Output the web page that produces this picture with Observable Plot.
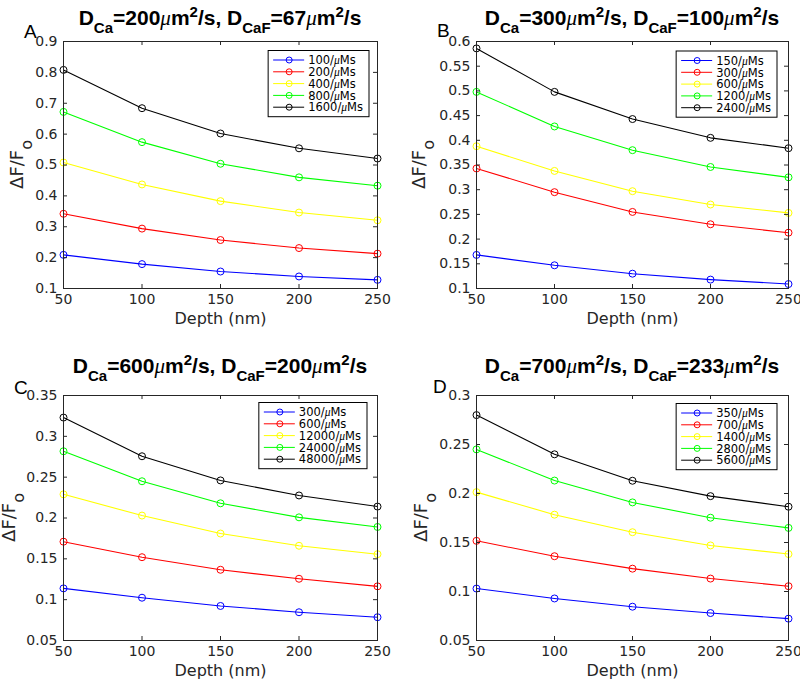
<!DOCTYPE html>
<html>
<head>
<meta charset="utf-8">
<script src="https://cdn.jsdelivr.net/npm/d3@7"></script>
<script src="https://cdn.jsdelivr.net/npm/@observablehq/plot@0.6"></script>
<style>
  html, body { margin: 0; padding: 0; background: #fff; }
  #wrap { position: relative; width: 800px; height: 679px; overflow: hidden; background: #fff; }
  #wrap svg { position: absolute; overflow: visible; }
</style>
</head>
<body>
<div id="wrap"></div>
<script>
// ---------- data ----------
const depth = [50, 100, 150, 200, 250];
const seriesColors = ["#0000ff", "#ff0000", "#ffff00", "#00ff00", "#000000"];
const panelLetters = ["A", "B", "C", "D"];
const dCa = [200, 300, 600, 700];
const dCaF = [67, 100, 200, 233];

const labelsA = ["100/μMs", "200/μMs", "400/μMs", "800/μMs", "1600/μMs"];
const labelsB = ["150/μMs", "300/μMs", "600/μMs", "1200/μMs", "2400/μMs"];
const labelsC = ["300/μMs", "600/μMs", "12000/μMs", "24000/μMs", "48000/μMs"];
const labelsD = ["350/μMs", "700/μMs", "1400/μMs", "2800/μMs", "5600/μMs"];

const valuesA = [
  [0.209, 0.179, 0.155, 0.139, 0.128],
  [0.342, 0.294, 0.257, 0.231, 0.213],
  [0.508, 0.437, 0.383, 0.346, 0.321],
  [0.672, 0.574, 0.504, 0.460, 0.433],
  [0.808, 0.684, 0.602, 0.554, 0.521]
];
const valuesB = [
  [0.168, 0.147, 0.130, 0.118, 0.109],
  [0.343, 0.295, 0.255, 0.230, 0.213],
  [0.388, 0.338, 0.297, 0.270, 0.253],
  [0.498, 0.428, 0.380, 0.346, 0.325],
  [0.586, 0.498, 0.443, 0.405, 0.384]
];
const valuesC = [
  [0.1138, 0.1024, 0.0923, 0.0846, 0.0785],
  [0.171, 0.152, 0.1366, 0.1256, 0.1163],
  [0.229, 0.203, 0.181, 0.166, 0.1557],
  [0.2817, 0.245, 0.218, 0.2008, 0.189],
  [0.323, 0.2756, 0.246, 0.2276, 0.214]
];
const valuesD = [
  [0.103, 0.0929, 0.0845, 0.078, 0.0723],
  [0.1517, 0.136, 0.1233, 0.1132, 0.1054],
  [0.2014, 0.1784, 0.1605, 0.147, 0.1382],
  [0.245, 0.2132, 0.1909, 0.1753, 0.1649],
  [0.280, 0.240, 0.213, 0.1973, 0.1865]
];

const xTicks = [50, 100, 150, 200, 250];
const yTicksA = [0.1, 0.2, 0.3, 0.4, 0.5, 0.6, 0.7, 0.8, 0.9];
const yTicksB = [0.1, 0.15, 0.2, 0.25, 0.3, 0.35, 0.4, 0.45, 0.5, 0.55, 0.6];
const yTicksC = [0.05, 0.1, 0.15, 0.2, 0.25, 0.3, 0.35];
const yTicksD = [0.05, 0.1, 0.15, 0.2, 0.25, 0.3];

// ---------- layout ----------
const AX = "#262626";
const panels = [
  {labels: labelsA, values: valuesA, yTicks: yTicksA, left: 0,   top: 0,   ml: 63, mr: 23, mt: 41, mb: 52, legTop: 50.5, legR: 8,  letterX: 24, letterY: 38, titleY: 25, ylabX: 23},
  {labels: labelsB, values: valuesB, yTicks: yTicksB, left: 400, top: 0,   ml: 76, mr: 12, mt: 41, mb: 52, legTop: 51,   legR: 11, letterX: 37, letterY: 37, titleY: 25, ylabX: 25},
  {labels: labelsC, values: valuesC, yTicks: yTicksC, left: 0,   top: 339, ml: 63, mr: 23, mt: 56, mb: 39, legTop: 63.5, legR: 10, letterX: 14, letterY: 55, titleY: 34, ylabX: 15},
  {labels: labelsD, values: valuesD, yTicks: yTicksD, left: 400, top: 339, ml: 76, mr: 12, mt: 56, mb: 39, legTop: 64.5, legR: 11, letterX: 33, letterY: 54, titleY: 34, ylabX: 27}
];

const W = 400, H = 340;
const wrap = document.getElementById("wrap");
const fmt = d => String(+d.toFixed(3));

panels.forEach((p, k) => {
  const data = p.labels.flatMap((lab, i) => depth.map((d, j) => ({depth: d, value: p.values[i][j], series: lab})));
  const plotW = W - p.ml - p.mr, plotH = H - p.mt - p.mb;
  const yDomain = [p.yTicks[0], p.yTicks[p.yTicks.length - 1]];
  const svg = Plot.plot({
    width: W, height: H,
    marginLeft: p.ml, marginRight: p.mr, marginTop: p.mt, marginBottom: p.mb,
    style: {fontFamily: "DejaVu Sans", fontSize: "14px", color: AX, background: "transparent", overflow: "visible"},
    x: {domain: [50, 250]},
    y: {domain: yDomain},
    color: {domain: p.labels, range: seriesColors},
    marks: [
      Plot.line(data, {x: "depth", y: "value", z: "series", stroke: "series", strokeWidth: 1.1}),
      Plot.dot(data, {x: "depth", y: "value", stroke: "series", fill: "none", r: 3.5, strokeWidth: 1}),
      Plot.frame({stroke: AX, strokeWidth: 1}),
      Plot.tickX(xTicks, {x: d => d, insetTop: plotH - 4, stroke: AX}),
      Plot.tickX(xTicks, {x: d => d, insetBottom: plotH - 4, stroke: AX}),
      Plot.tickY(p.yTicks, {y: d => d, insetRight: plotW - 4, stroke: AX}),
      Plot.tickY(p.yTicks, {y: d => d, insetLeft: plotW - 4, stroke: AX}),
      Plot.axisX(xTicks, {tickSize: 0, tickPadding: 6, label: null, tickFormat: d => String(d)}),
      Plot.axisY(p.yTicks, {tickSize: 0, tickPadding: 6, label: null, tickFormat: fmt}),
      Plot.text(["Depth (nm)"], {frameAnchor: "bottom", lineAnchor: "middle", dy: 30, fontSize: 16, fill: AX})
    ]
  });
  svg.style.left = p.left + "px";
  svg.style.top = p.top + "px";
  wrap.appendChild(svg);

  const s = d3.select(svg);
  const cx = p.ml + plotW / 2, cy = p.mt + plotH / 2;

  // title with sub/superscripts
  const parts = [
    ["D", "m"], ["Ca", "sub"], ["=" + dCa[k], "m"], ["μ", "mu"], ["m", "m"], ["2", "sup"],
    ["/s, D", "m"], ["CaF", "sub"], ["=" + dCaF[k], "m"], ["μ", "mu"], ["m", "m"], ["2", "sup"], ["/s", "m"]
  ];
  const t = s.append("text")
    .attr("x", cx).attr("y", p.titleY)
    .attr("text-anchor", "middle")
    .attr("font-family", "Liberation Sans, Arial, sans-serif")
    .attr("font-weight", "bold")
    .attr("font-size", 21)
    .attr("fill", "#000");
  let off = 0;
  parts.forEach(([txt, kind]) => {
    const target = kind === "sub" ? 8 : kind === "sup" ? -8 : 0;
    const ts = t.append("tspan").text(txt).attr("dy", target - off);
    off = target;
    if (kind === "sub" || kind === "sup") ts.attr("font-size", 15);
    if (kind === "mu") ts.attr("font-family", "Liberation Serif, serif").attr("font-weight", "normal").attr("font-style", "italic");
  });

  // panel letter
  s.append("text").text(panelLetters[k])
    .attr("x", p.letterX).attr("y", p.letterY)
    .attr("text-anchor", "start")
    .attr("font-family", "Liberation Sans, Arial, sans-serif")
    .attr("font-size", 19).attr("fill", "#000");

  // y label ΔF/F_o
  const yl = s.append("text")
    .attr("transform", `translate(${p.ylabX},${cy}) rotate(-90)`)
    .attr("text-anchor", "middle")
    .attr("font-family", "DejaVu Sans")
    .attr("font-size", 18).attr("fill", AX);
  yl.append("tspan").text("ΔF/F");
  yl.append("tspan").text("o").attr("dy", 9).attr("font-size", 16);

  // legend
  const legRight = p.ml + plotW - p.legR;
  const gap = 11.8, pad = 9.5;
  const g = s.append("g").attr("font-family", "DejaVu Sans").attr("font-size", 11.5).attr("text-anchor", "start");
  const rect = g.append("rect").attr("fill", "#fff").attr("stroke", "#000").attr("stroke-width", 1);
  const items = p.labels.map((lab, i) => {
    const y = p.legTop + pad + i * gap;
    const gi = g.append("g");
    const line = gi.append("line").attr("y1", y).attr("y2", y).attr("stroke", seriesColors[i]).attr("stroke-width", 1);
    const circ = gi.append("circle").attr("cy", y).attr("r", 3).attr("fill", "none").attr("stroke", seriesColors[i]);
    const tx = gi.append("text").attr("y", y + 4.2).attr("fill", "#000").attr("text-anchor", "start");
    const [num, rest] = lab.split("μ");
    tx.append("tspan").text(num);
    tx.append("tspan").text("μ").attr("font-family", "Liberation Serif, serif").attr("font-style", "italic");
    tx.append("tspan").text(rest);
    return {line, circ, tx};
  });
  const maxW = d3.max(items, d => d.tx.node().getComputedTextLength());
  const boxW = 40 + maxW + 6;
  const bx = legRight - boxW;
  items.forEach(({line, circ, tx}) => {
    line.attr("x1", bx + 5).attr("x2", bx + 36);
    circ.attr("cx", bx + 21);
    tx.attr("x", bx + 40);
  });
  rect.attr("x", bx).attr("y", p.legTop).attr("width", boxW).attr("height", pad * 2 + gap * 4);
});
</script>
</body>
</html>
